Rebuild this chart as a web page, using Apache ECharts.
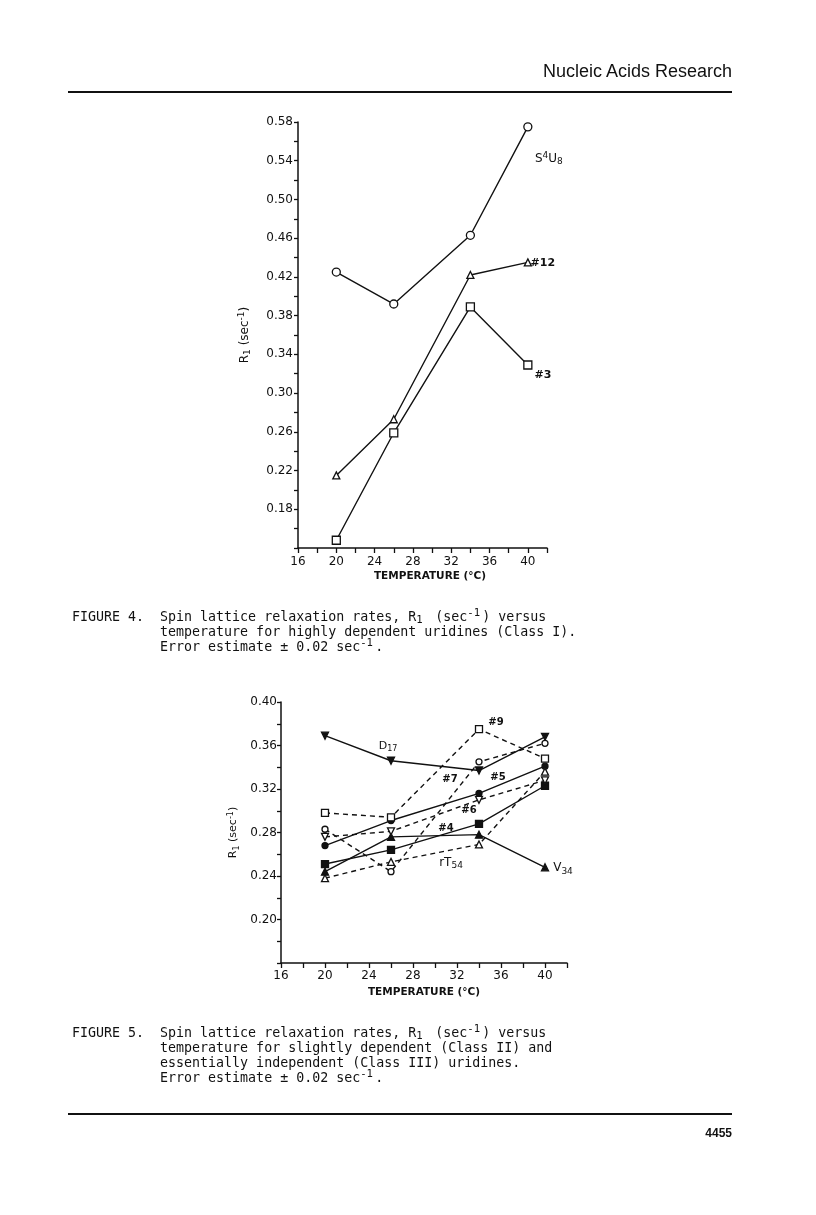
<!DOCTYPE html>
<html>
<head>
<meta charset="utf-8">
<script src="https://cdn.jsdelivr.net/npm/echarts@6/dist/echarts.min.js"></script>
<style>
  html, body { margin: 0; padding: 0; background: #fff; }
  #page { position: relative; width: 816px; height: 1215px; overflow: hidden; background: #fff; }
  #chart { position: absolute; left: 0; top: 0; width: 816px; height: 1215px; }
  .rule { position: absolute; left: 68px; width: 664px; height: 2px; background: #111; }
  .head { position: absolute; right: 84px; top: 60px; font-family: "Liberation Sans", Arial, sans-serif; font-size: 18px; line-height: 22px; color: #111; }
  .pno { position: absolute; right: 84px; top: 1125px; font-family: "Liberation Sans", Arial, sans-serif; font-weight: bold; font-size: 12px; line-height: 16px; color: #111; }
  .cap { position: absolute; left: 72px; margin: 0; font-family: "DejaVu Sans Mono", monospace; font-size: 13.3px; line-height: 15px; color: #111; white-space: pre; }
  .cap sub, .cap sup { font-size: 0.8em; line-height: 0; position: relative; vertical-align: baseline; display: inline-block; text-align: left; }
  .cap sub { top: 0.15em; width: 11px; }
  .cap sup { top: -0.45em; width: 15px; }
</style>
</head>
<body>
<div id="page">
  <div id="chart"></div>
  <div class="head">Nucleic Acids Research</div>
  <div class="rule" style="top:91px"></div>
  <pre class="cap" style="top:609px">FIGURE 4.  Spin lattice relaxation rates, R<sub>1</sub> (sec<sup>-1</sup>) versus
           temperature for highly dependent uridines (Class I).
           Error estimate ± 0.02 sec<sup>-1</sup>.</pre>
  <pre class="cap" style="top:1025px">FIGURE 5.  Spin lattice relaxation rates, R<sub>1</sub> (sec<sup>-1</sup>) versus
           temperature for slightly dependent (Class II) and
           essentially independent (Class III) uridines.
           Error estimate ± 0.02 sec<sup>-1</sup>.</pre>
  <div class="rule" style="top:1113px"></div>
  <div class="pno">4455</div>
</div>
<script>
// ---------- data ----------
const temps = [20, 26, 34, 40];            // temperature (°C)
const xTicks = [16, 20, 24, 28, 32, 36, 40];

// Figure 4 (Class I)
const s4u8 = [0.425, 0.392, 0.463, 0.575];
const u12  = [0.215, 0.273, 0.422, 0.435];
const u3   = [0.148, 0.259, 0.389, 0.329];
const fig4YTicks = [0.18, 0.22, 0.26, 0.30, 0.34, 0.38, 0.42, 0.46, 0.50, 0.54, 0.58];

// Figure 5 (Class II and III)
const d17  = [0.369, 0.346, 0.337, 0.368];
const u9   = [0.298, 0.294, 0.375, 0.348];
const u7   = [0.283, 0.244, 0.345, 0.362];
const u5   = [0.268, 0.291, 0.316, 0.341];
const u6   = [0.276, 0.281, 0.310, 0.328];
const u4   = [0.251, 0.264, 0.288, 0.323];
const rt54 = [0.238, 0.253, 0.269, 0.336];
const v34  = [0.244, 0.276, 0.278, 0.248];
const fig5YTicks = [0.20, 0.24, 0.28, 0.32, 0.36, 0.40];

// ---------- styling ----------
const INK = '#111';
const FONT = '"DejaVu Sans", "Liberation Sans", sans-serif';

function richFor(size, weight) {
  const w = weight || 'normal';
  return {
    n:   { fontSize: size, fontFamily: FONT, fontWeight: w, color: INK, lineHeight: size + 6 },
    sup: { fontSize: Math.round(size * 0.72), fontFamily: FONT, fontWeight: w, color: INK, padding: [0, 0, 6, 0] },
    sub: { fontSize: Math.round(size * 0.72), fontFamily: FONT, fontWeight: w, color: INK, padding: [6, 0, 0, 0] }
  };
}

function makeSeries(name, vals, grid, symbol, filled, dashed, size, rotate, lab) {
  return {
    type: 'line', name: name,
    xAxisIndex: grid, yAxisIndex: grid,
    data: temps.map(function (t, i) {
      const d = { value: [t, vals[i]] };
      if (lab && lab.idx === i) {
        d.label = {
          show: true, position: 'inside', offset: lab.offset,
          formatter: lab.text, rich: richFor(lab.size, lab.weight),
          align: 'center', verticalAlign: 'middle'
        };
      }
      return d;
    }),
    symbol: symbol, symbolSize: size, symbolRotate: rotate || 0,
    showAllSymbol: true, clip: false,
    lineStyle: { color: INK, width: 1.4, type: dashed ? [5, 4] : 'solid' },
    itemStyle: { color: filled ? INK : '#fff', borderColor: INK, borderWidth: 1.3 },
    emphasis: { disabled: true },
    z: filled ? 3 : 4
  };
}

function xAxisFor(grid, margin, nameGap, padLeft) {
  return {
    gridIndex: grid, type: 'value', min: 16, max: 42, interval: 2,
    axisLine: { show: true, onZero: false, lineStyle: { color: INK, width: 1.5 } },
    axisTick: { show: true, length: 5, lineStyle: { color: INK, width: 1.3 } },
    splitLine: { show: false },
    axisLabel: {
      color: INK, fontFamily: FONT, fontSize: 12, margin: margin,
      formatter: function (v) { const r = Math.round(v); return xTicks.indexOf(r) >= 0 ? String(r) : ''; }
    },
    name: 'TEMPERATURE (°C)', nameLocation: 'middle', nameGap: nameGap,
    nameTextStyle: { color: INK, fontFamily: FONT, fontSize: 10.5, fontWeight: 'bold', padding: [0, 0, 0, padLeft] }
  };
}

function yAxisFor(grid, min, max, ticks, margin, nameGap, nameSize) {
  return {
    gridIndex: grid, type: 'value', min: min, max: max, interval: 0.02,
    axisLine: { show: true, onZero: false, lineStyle: { color: INK, width: 1.5 } },
    axisTick: { show: true, length: 4, lineStyle: { color: INK, width: 1.3 } },
    splitLine: { show: false },
    axisLabel: {
      color: INK, fontFamily: FONT, fontSize: 12, margin: margin,
      formatter: function (v) {
        const r = Math.round(v * 100);
        return ticks.some(function (t) { return Math.round(t * 100) === r; }) ? (r / 100).toFixed(2) : '';
      }
    },
    name: '{n|R}{sub|1}{n| (sec}{sup|-1}{n|)}', nameLocation: 'middle', nameGap: nameGap, nameRotate: 90,
    nameTextStyle: { rich: richFor(nameSize) }
  };
}

const chart = echarts.init(document.getElementById('chart'), null, { renderer: 'canvas' });
chart.setOption({
  animation: false,
  backgroundColor: 'transparent',
  grid: [
    { left: 298, top: 122, width: 249, height: 426 },
    { left: 281, top: 702, width: 286, height: 261 }
  ],
  xAxis: [
    xAxisFor(0, 8, 23, 15),
    xAxisFor(1, 7, 24, 0)
  ],
  yAxis: [
    yAxisFor(0, 0.14, 0.58, fig4YTicks, 5, 44, 12),
    yAxisFor(1, 0.16, 0.40, fig5YTicks, 4, 39, 11)
  ],
  series: [
    makeSeries('S4U8', s4u8, 0, 'circle', false, false, 8, 0,
      { idx: 3, offset: [21, 32], size: 12, text: '{n|S}{sup|4}{n|U}{sub|8}' }),
    makeSeries('#12', u12, 0, 'triangle', false, false, 7, 0,
      { idx: 3, offset: [15, 1], size: 11, weight: 'bold', text: '{n|#12}' }),
    makeSeries('#3', u3, 0, 'rect', false, false, 8, 0,
      { idx: 3, offset: [15, 10], size: 11, weight: 'bold', text: '{n|#3}' }),

    makeSeries('D17', d17, 1, 'triangle', true, false, 7, 180,
      { idx: 1, offset: [-3, -15], size: 11, text: '{n|D}{sub|17}' }),
    makeSeries('#9', u9, 1, 'rect', false, true, 7, 0,
      { idx: 2, offset: [17, -7], size: 10, weight: 'bold', text: '{n|#9}' }),
    makeSeries('#7', u7, 1, 'circle', false, true, 6, 0,
      { idx: 2, offset: [-29, 18], size: 10, weight: 'bold', text: '{n|#7}' }),
    makeSeries('#5', u5, 1, 'circle', true, false, 6, 0,
      { idx: 2, offset: [19, -16], size: 10, weight: 'bold', text: '{n|#5}' }),
    makeSeries('#6', u6, 1, 'triangle', false, true, 7, 180,
      { idx: 2, offset: [-10, 11], size: 10, weight: 'bold', text: '{n|#6}' }),
    makeSeries('#4', u4, 1, 'rect', true, false, 7, 0,
      { idx: 2, offset: [-33, 5], size: 10, weight: 'bold', text: '{n|#4}' }),
    makeSeries('rT54', rt54, 1, 'triangle', false, true, 7, 0,
      { idx: 2, offset: [-28, 18], size: 12, text: '{n|rT}{sub|54}' }),
    makeSeries('V34', v34, 1, 'triangle', true, false, 7, 0,
      { idx: 3, offset: [18, 1], size: 12, text: '{n|V}{sub|34}' })
  ]
});
</script>
</body>
</html>
